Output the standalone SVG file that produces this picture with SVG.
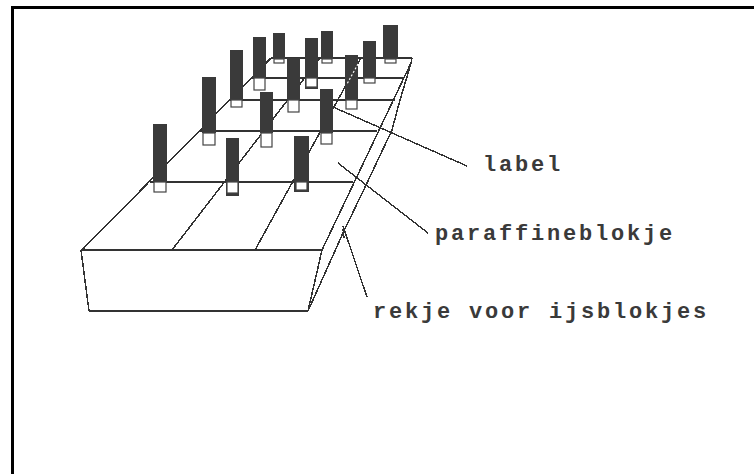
<svg xmlns="http://www.w3.org/2000/svg" width="754" height="474" viewBox="0 0 754 474">
  <style>
    .frame { fill: none; stroke: #000; stroke-width: 3; }
    .edge { fill: none; stroke: #333; stroke-width: 1.5; shape-rendering: crispEdges; }
    .row { fill: none; stroke: #333; stroke-width: 2; shape-rendering: crispEdges; }
    .bar { fill: #3a3a3a; }
    .block { fill: #fff; stroke: #444; stroke-width: 1.2; }
    .lead { fill: none; stroke: #333; stroke-width: 1.4; shape-rendering: crispEdges; }
    .cut { fill: none; stroke: #fff; stroke-width: 1.2; stroke-dasharray: 2 2; }
    .txt { font-family: "Liberation Mono", "DejaVu Sans Mono", monospace; font-size: 22px; font-weight: bold; letter-spacing: 2.8px; fill: #3a3a3a; }
  </style>

  <!-- open frame: top and left rules -->
  <path class="frame" d="M754,7.5 H12.5 V474"/>

  <!-- ice cube tray -->
  <g id="tray">
    <!-- top surface outline -->
    <line class="edge" x1="82" y1="250" x2="271" y2="58"/>
    <line class="edge" x1="322" y1="250" x2="411" y2="63"/>
    <line class="edge" x1="412" y1="58" x2="411" y2="64"/>
    <!-- compartment columns -->
    <line class="edge" x1="172" y1="250" x2="320" y2="58"/>
    <line class="edge" x1="255" y1="250" x2="361" y2="58"/>
    <!-- compartment rows -->
    <line class="row" x1="271" y1="58" x2="412" y2="58"/>
    <line class="row" x1="251" y1="78" x2="403" y2="78"/>
    <line class="row" x1="229" y1="100" x2="395" y2="100"/>
    <line class="row" x1="200" y1="131" x2="377" y2="131"/>
    <line class="row" x1="150" y1="182" x2="353" y2="182"/>
    <!-- front face -->
    <line class="row" x1="81" y1="250" x2="322" y2="250"/>
    <line class="row" x1="89" y1="311" x2="308" y2="311"/>
    <line class="edge" x1="81" y1="250" x2="89" y2="311"/>
    <line class="edge" x1="322" y1="250" x2="308" y2="311"/>
    <!-- lower edge of the right side -->
    <polyline class="edge" points="411,63 406,80 400,100 392,130 367,183 343,233 308,311"/>
  </g>

  <!-- labelled paraffin blocks, back row first -->
  <g id="pegs">
    <g id="peg-m"><rect class="bar" x="273" y="33" width="12" height="26"/><rect class="block" x="274" y="59" width="10" height="4"/></g>
    <g id="peg-n"><rect class="bar" x="321" y="31" width="12" height="28"/><rect class="block" x="322" y="59" width="10" height="4"/></g>
    <g id="peg-o"><rect class="bar" x="383" y="25" width="15" height="34"/><rect class="block" x="385" y="59" width="11" height="4"/></g>

    <g id="peg-j"><rect class="bar" x="253" y="37" width="13" height="41"/><rect class="block" x="254" y="78" width="11" height="12"/></g>
    <g id="peg-k"><rect class="bar" x="305" y="38" width="13" height="51"/><rect class="block" x="306" y="78" width="11" height="9"/></g>
    <g id="peg-l"><rect class="bar" x="363" y="41" width="13" height="37"/><rect class="block" x="364" y="78" width="11" height="5"/></g>

    <g id="peg-g"><rect class="bar" x="230" y="50" width="13" height="50"/><rect class="block" x="231" y="100" width="11" height="7"/></g>
    <g id="peg-h"><rect class="bar" x="287" y="58" width="13" height="42"/><rect class="block" x="288" y="100" width="11" height="12"/></g>
    <g id="peg-i"><rect class="bar" x="345" y="55" width="13" height="45"/><rect class="block" x="346" y="100" width="11" height="9"/>
      <line class="cut" x1="358" y1="64" x2="347" y2="84"/></g>

    <g id="peg-d"><rect class="bar" x="202" y="77" width="14" height="56"/><rect class="block" x="203" y="133" width="12" height="12"/></g>
    <g id="peg-e"><rect class="bar" x="260" y="92" width="13" height="41"/><rect class="block" x="261" y="133" width="11" height="14"/></g>
    <g id="peg-f"><rect class="bar" x="320" y="89" width="13" height="44"/><rect class="block" x="321" y="133" width="11" height="11"/></g>

    <g id="peg-a"><rect class="bar" x="153" y="124" width="14" height="58"/><rect class="block" x="154" y="182" width="12" height="10"/></g>
    <g id="peg-b"><rect class="bar" x="226" y="138" width="13" height="58"/><rect class="block" x="227" y="182" width="11" height="11"/></g>
    <g id="peg-c"><rect class="bar" x="294" y="136" width="15" height="56"/><rect class="block" x="296" y="182" width="11" height="8"/></g>
  </g>

  <!-- leader lines -->
  <g id="connectors">
    <line class="lead" x1="333" y1="107" x2="467" y2="166"/>
    <line class="lead" x1="338" y1="163" x2="428" y2="233"/>
    <line class="lead" x1="343" y1="226" x2="367" y2="297"/>
    <line class="lead" x1="343" y1="229" x2="344" y2="238" stroke-width="2.4"/>
  </g>

  <g id="label-label"><text class="txt" x="483" y="171">label</text></g>
  <g id="label-paraffineblokje"><text class="txt" x="435" y="240">paraffineblokje</text></g>
  <g id="label-rekje"><text class="txt" x="373" y="318">rekje voor ijsblokjes</text></g>
</svg>
